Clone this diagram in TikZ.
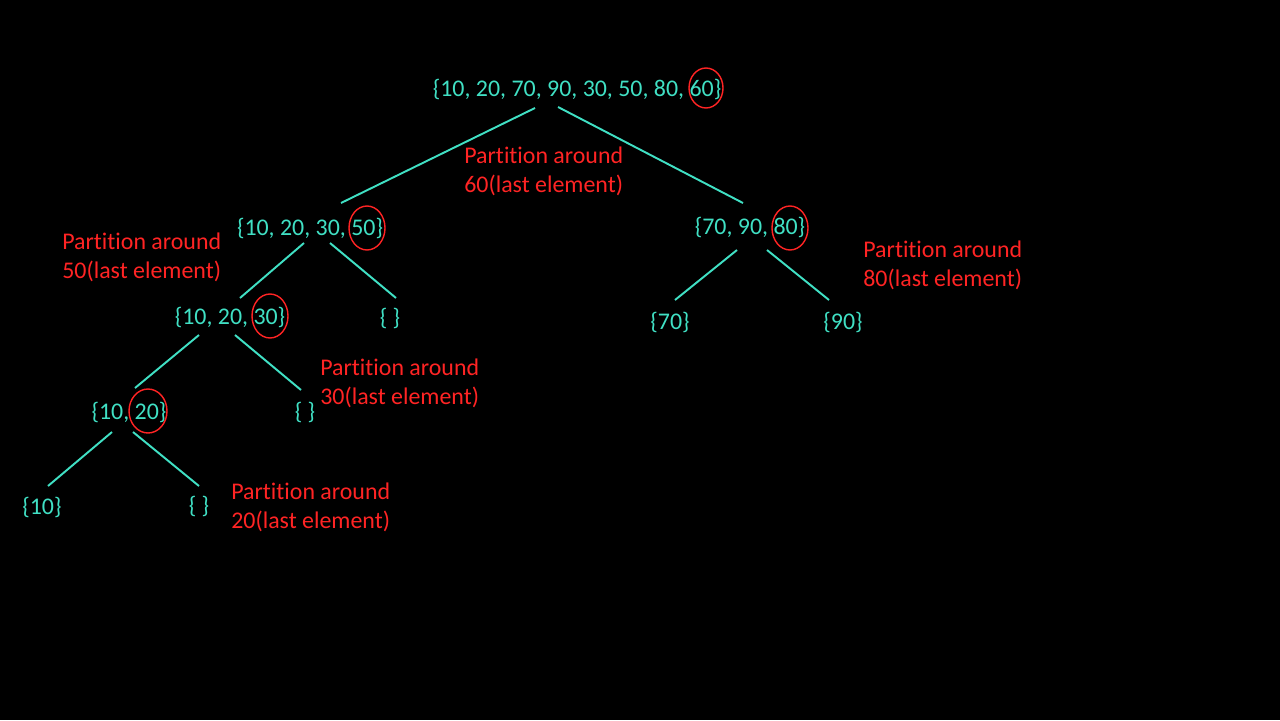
\documentclass[tikz,border=0pt]{standalone}
\usepackage{fontspec}
\setmainfont[RawFeature={-liga}]{Carlito}
\usepackage{tikz}
\usetikzlibrary{calc, shapes.geometric}
\definecolor{treeteal}{RGB}{64,224,196}
\definecolor{notered}{RGB}{255,36,36}
\tikzset{
    elem/.style={text=treeteal, inner sep=0pt, anchor=base, font=\fontsize{13.6}{16.4}\selectfont},
    note/.style={text=notered, inner sep=0pt, anchor=north west, align=left, font=\fontsize{13.6}{16.4}\selectfont},
    pivot/.style={draw=notered, line width=0.8pt, ellipse, inner sep=0pt},
    branch/.style={draw=treeteal, line width=1.1pt}
}

\begin{document}
\begin{tikzpicture}[x=0.02cm, y=-0.02cm]
    \fill[black](0, 0) rectangle (1280, 720);
    % the array and its partitions
    \node[elem] (root) at (577, 96) {\{10, 20, 70, 90, 30, 50, 80, 60\}};
    \node[elem] (l) at (310, 235) {\{10, 20, 30, 50\}};
    \node[elem] (r) at (750, 234) {\{70, 90, 80\}};
    \node[elem] (ll) at (230, 324) {\{10, 20, 30\}};
    \node[elem] (lr) at (390, 325) {\{ \}};
    \node[elem] (rl) at (670, 329) {\{70\}};
    \node[elem] (rr) at (843, 329) {\{90\}};
    \node[elem] (lll) at (129, 419) {\{10, 20\}};
    \node[elem] (llr) at (305, 419) {\{ \}};
    \node[elem] (llll) at (42, 514) {\{10\}};
    \node[elem] (lllr) at (199, 513) {\{ \}};
    % pivots
    \node[pivot, minimum width=0.68cm, minimum height=0.8cm] (p60) at (706, 88) {};
    \node[pivot, minimum width=0.72cm, minimum height=0.88cm] (p50) at (367, 228) {};
    \node[pivot, minimum width=0.72cm, minimum height=0.88cm] (p80) at (790, 228) {};
    \node[pivot, minimum width=0.72cm, minimum height=0.88cm] (p30) at (270, 316) {};
    \node[pivot, minimum width=0.76cm, minimum height=0.88cm] (p20) at (148, 411) {};
    % branches
    \draw[branch]($(root.base)+(-42, 12)$)--($(l.base)+(31, -32)$);
    \draw[branch]($(root.base)+(-19, 11)$)--($(r.base)+(-7, -31)$);
    \draw[branch]($(l.base)+(-6, 8)$)--($(ll.base)+(10, -26)$);
    \draw[branch]($(l.base)+(20, 8)$)--($(lr.base)+(6, -27)$);
    \draw[branch]($(r.base)+(-13, 16)$)--($(rl.base)+(5, -29)$);
    \draw[branch]($(r.base)+(17, 16)$)--($(rr.base)+(-14, -29)$);
    \draw[branch]($(ll.base)+(-31, 11)$)--($(lll.base)+(6, -31)$);
    \draw[branch]($(ll.base)+(5, 11)$)--($(llr.base)+(-4, -29)$);
    \draw[branch]($(lll.base)+(-17, 13)$)--($(llll.base)+(6, -28)$);
    \draw[branch]($(lll.base)+(4, 13)$)--($(lllr.base)+(0, -27)$);
    % notes
    \node[note] (n60) at (464, 147) {Partition around\\60(last element)};
    \node[note] (n50) at (62, 233) {Partition around\\50(last element)};
    \node[note] (n80) at (863, 241) {Partition around\\80(last element)};
    \node[note] (n30) at (320, 359) {Partition around\\30(last element)};
    \node[note] (n20) at (231, 483) {Partition around\\20(last element)};
\end{tikzpicture}
\end{document}
